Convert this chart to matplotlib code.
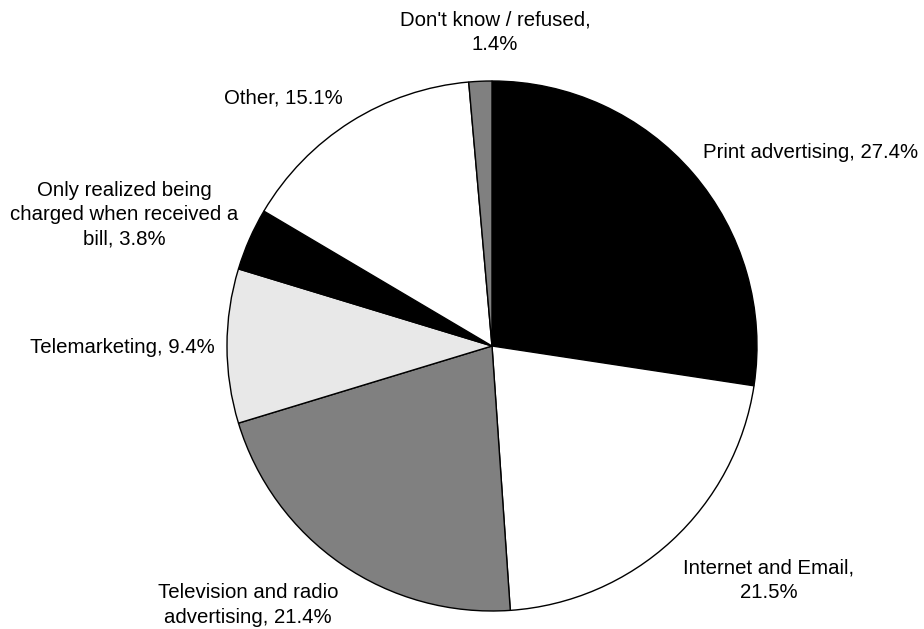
import matplotlib.pyplot as plt

labels = ["Print advertising, 27.4%", "Internet and Email,\n21.5%",
          "Television and radio\nadvertising, 21.4%", "Telemarketing, 9.4%",
          "Only realized being\ncharged when received a\nbill, 3.8%",
          "Other, 15.1%", "Don't know / refused,\n1.4%"]
values = [27.4, 21.5, 21.4, 9.4, 3.8, 15.1, 1.4]
colors = ["#000000", "#ffffff", "#808080", "#e8e8e8", "#000000", "#ffffff", "#808080"]

# label centres in pixels of the 924x629 figure (layout only)
label_px = [(811, 153), (769, 580), (248, 605), (122, 347), (124, 215), (283, 98), (495, 32)]

W, H = 924, 629
cx, cy, r = 492, 346, 265

plt.rcParams['font.family'] = ['Liberation Sans', 'DejaVu Sans']
fig = plt.figure(figsize=(W / 100, H / 100), dpi=100)
ax = fig.add_axes([(cx - r) / W, (H - cy - r) / H, 2 * r / W, 2 * r / H])
ax.pie(values, colors=colors, startangle=90, counterclock=False,
       wedgeprops=dict(edgecolor='black', linewidth=1))
ax.set_xlim(-1, 1)
ax.set_ylim(-1, 1)
ax.axis('off')

for lab, (px, py) in zip(labels, label_px):
    fig.text(px / W, 1 - py / H, lab, ha='center', va='center',
             fontsize=14.7, color='#000000', linespacing=1.35)

fig.savefig('out.png', dpi=100)
